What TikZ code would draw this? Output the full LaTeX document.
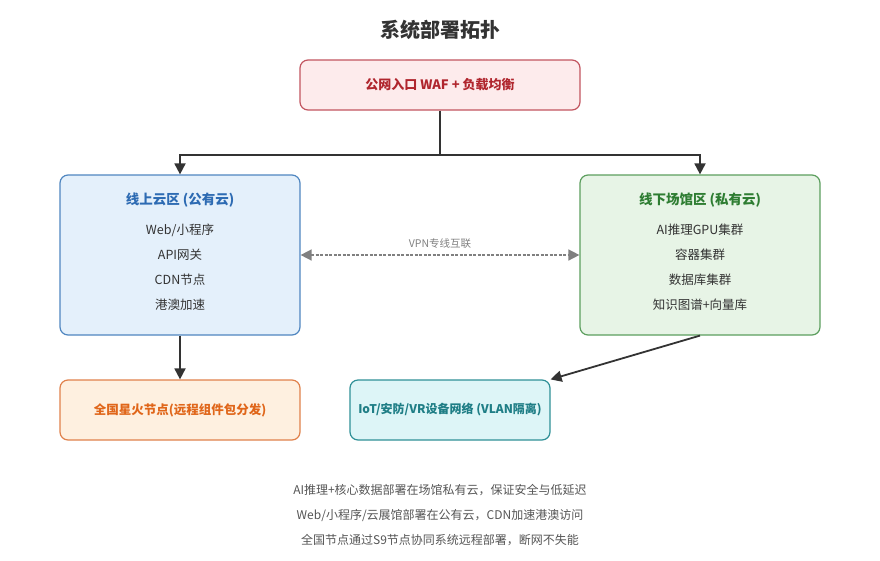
\documentclass[tikz,border=0pt]{standalone}
\usepackage{fontspec}
\setmainfont{Noto Sans CJK SC}
\usetikzlibrary{arrows.meta}
\definecolor{gatefill}{HTML}{FDEBEC}
\definecolor{gateline}{HTML}{C25560}
\definecolor{gatetext}{HTML}{B0262E}
\definecolor{cloudfill}{HTML}{E4F0FB}
\definecolor{cloudline}{HTML}{4F86C0}
\definecolor{cloudtext}{HTML}{2D6BB3}
\definecolor{venuefill}{HTML}{E7F4E6}
\definecolor{venueline}{HTML}{5C9E5E}
\definecolor{venuetext}{HTML}{2E7D32}
\definecolor{sparkfill}{HTML}{FEF0E0}
\definecolor{sparkline}{HTML}{E0814B}
\definecolor{sparktext}{HTML}{E0661A}
\definecolor{iotfill}{HTML}{DDF5F7}
\definecolor{iotline}{HTML}{2F9097}
\definecolor{iottext}{HTML}{1F7E86}
\definecolor{wire}{HTML}{333333}
\definecolor{note}{HTML}{555555}
\tikzset{
  box/.style={draw, rounded corners=8pt, line width=1.2pt},
  head/.style={font=\fontsize{13.5}{16}\selectfont\bfseries},
  item/.style={font=\fontsize{12.5}{15}\selectfont, text=wire},
  link/.style={draw=wire, line width=1.8pt, -{Triangle[length=11pt,width=11pt]}}
}
\begin{document}
\begin{tikzpicture}[x=1pt,y=-1pt,font=\fontsize{12}{14}\selectfont]
\useasboundingbox (0,0) rectangle (880,560);
\node[font=\fontsize{20}{24}\selectfont\bfseries, text=wire] (title) at (440,30) {系统部署拓扑};
\node[box, fill=gatefill, draw=gateline, minimum width=280pt, minimum height=50pt,
      text=gatetext, font=\fontsize{13}{15}\selectfont\bfseries] (gate) at (440,85) {公网入口 WAF + 负载均衡};
\node[box, fill=cloudfill, draw=cloudline, minimum width=240pt, minimum height=160pt] (cloud) at (180,255) {};
\node[box, fill=venuefill, draw=venueline, minimum width=240pt, minimum height=160pt] (venue) at (700,255) {};
\node[head, text=cloudtext] (cloudhead) at (180,200) {线上云区 (公有云)};
\node[head, text=venuetext] (venuehead) at (700,200) {线下场馆区 (私有云)};
\foreach \t [count=\i] in {Web/小程序, API网关, CDN节点, 港澳加速}
  \node[item] (cloud-\i) at (180,205+25*\i) {\t};
\foreach \t [count=\i] in {AI推理GPU集群, 容器集群, 数据库集群, 知识图谱+向量库}
  \node[item] (venue-\i) at (700,205+25*\i) {\t};
\node[box, fill=sparkfill, draw=sparkline, minimum width=240pt, minimum height=60pt,
      text=sparktext, font=\fontsize{12.5}{15}\selectfont\bfseries] (spark) at (180,410) {全国星火节点(远程组件包分发)};
\node[box, fill=iotfill, draw=iotline, minimum width=200pt, minimum height=60pt,
      text=iottext, font=\fontsize{12}{14}\selectfont\bfseries] (iot) at (450,410) {IoT/安防/VR设备网络 (VLAN隔离)};
% connectors
\coordinate (split) at (440,155);
\draw[draw=wire, line width=1.8pt] (gate.south) -- (split);
\draw[link] (split) -| (cloud.north);
\draw[link] (split) -| (venue.north);
\draw[draw=gray, line width=1.5pt, dash pattern=on 3pt off 1.5pt, {Triangle[length=11pt,width=11pt]}-{Triangle[length=11pt,width=11pt]}]
  (cloud.east) -- node[above=2pt, font=\fontsize{10.5}{12}\selectfont, text=gray] {VPN专线互联} (venue.west);
\draw[link] (cloud.south) -- (spark.north);
\draw[link] (venue.south) -- (iot.north east);
% notes
\foreach \t [count=\i] in {AI推理+核心数据部署在场馆私有云，保证安全与低延迟,
                           Web/小程序/云展馆部署在公有云，CDN加速港澳访问,
                           全国节点通过S9节点协同系统远程部署，断网不失能}
  \node[font=\fontsize{12}{14}\selectfont, text=note] (note-\i) at (440,465+25*\i) {\t};
\end{tikzpicture}
\end{document}
